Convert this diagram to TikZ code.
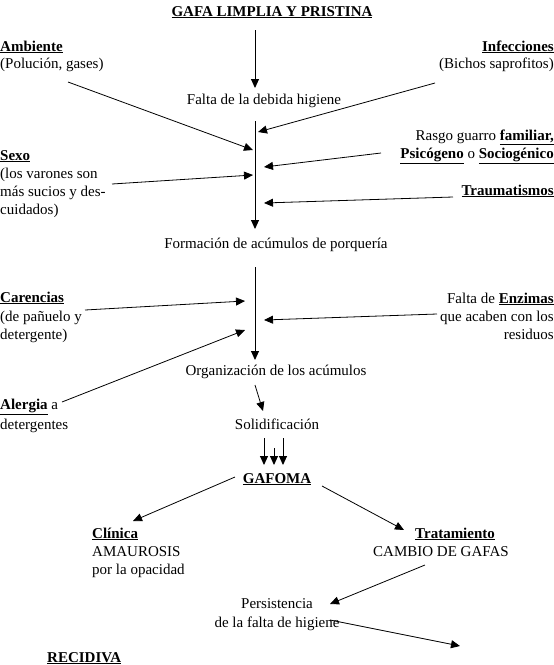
\documentclass[tikz,border=0pt]{standalone}
\usepackage{fontspec}
\setmainfont{Liberation Serif}
\usetikzlibrary{arrows.meta}
\begin{document}
\begin{tikzpicture}[x=1pt,y=-1pt,
  txt/.style={inner sep=0pt,font=\fontsize{15}{18}\selectfont},
  lw/.style={txt,anchor=base west},
  le/.style={txt,anchor=base east},
  lc/.style={txt,anchor=base},
  arr/.style={-{Triangle[length=9pt,width=8pt]},line width=0.8pt},
  varr/.style={arr,line width=0.95pt}]
\useasboundingbox (0,0) rectangle (554,665);
\newcommand{\bu}[1]{\underline{\textbf{#1}}}
% texts
\node[lc] (title) at (272,16) {\bu{GAFA LIMPLIA Y PRISTINA}};
\node[lw] (amb) at (0,51) {\bu{Ambiente}};
\node[lw] (amb2) at (0,68) {(Polución, gases)};
\node[le] (inf) at (554,51) {\bu{Infecciones}};
\node[le] (inf2) at (554,68) {(Bichos saprofitos)};
\node[lc] (falta) at (264,104) {Falta de la debida higiene};
\node[le] (rasgo) at (554,140) {Rasgo guarro \bu{familiar,}};
\node[le] (rasgo2) at (554,158) {\bu{Psicógeno} o \bu{Sociogénico}};
\node[lw] (sexo) at (0,160) {\bu{Sexo}};
\node[lw] (sexo2) at (0,178) {(los varones son};
\node[lw] (sexo3) at (0,196) {más sucios y des-};
\node[lw] (sexo4) at (0,214) {cuidados)};
\node[le] (trauma) at (554,195) {\bu{Traumatismos}};
\node[lc] (form) at (276,248) {Formación de acúmulos de porquería};
\node[lw] (car) at (0,302) {\bu{Carencias}};
\node[lw] (car2) at (0,321) {(de pañuelo y};
\node[lw] (car3) at (0,339) {detergente)};
\node[le] (enz) at (554,303) {Falta de \bu{Enzimas}};
\node[le] (enz2) at (554,321) {que acaben con los};
\node[le] (enz3) at (554,339) {residuos};
\node[lc] (org) at (276,375) {Organización de los acúmulos};
\node[lw] (ale) at (0,409) {\bu{Alergia} a};
\node[lw] (ale2) at (0,429) {detergentes};
\node[lc] (sol) at (277,429) {Solidificación};
\node[lc] (gaf) at (277,483) {\bu{GAFOMA}};
\node[lw] (cli) at (92,538) {\bu{Clínica}};
\node[lw] (cli2) at (92,556) {AMAUROSIS};
\node[lw] (cli3) at (92,574) {por la opacidad};
\node[lw] (tra) at (415,538) {\bu{Tratamiento}};
\node[lw] (tra2) at (373,556) {CAMBIO DE GAFAS};
\node[lc] (per) at (277,608) {Persistencia};
\node[lc] (per2) at (277,627) {de la falta de higiene};
\node[lw] (rec) at (47,662) {\bu{RECIDIVA}};
% coordinates
\coordinate (v1a) at (255,30);  \coordinate (v1b) at (255,88);
\coordinate (v2a) at (255,121); \coordinate (v2b) at (255,229);
\coordinate (v3a) at (255,267); \coordinate (v3b) at (255,360);
\coordinate (ambS) at (68,82);   \coordinate (ambE) at (253,150);
\coordinate (infS) at (435,83);  \coordinate (infE) at (258,132);
\coordinate (rasS) at (381,153); \coordinate (rasE) at (264,167);
\coordinate (sexS) at (112,184); \coordinate (sexE) at (253,175);
\coordinate (traS) at (453,197); \coordinate (traE) at (264,203);
\coordinate (carS) at (85,310);  \coordinate (carE) at (245,301);
\coordinate (enzS) at (437,314); \coordinate (enzE) at (264,320);
\coordinate (aleS) at (62,402);  \coordinate (aleE) at (245,330);
\coordinate (orgS) at (255,385); \coordinate (orgE) at (263,411);
\coordinate (t1a) at (264,438); \coordinate (t1b) at (264,465);
\coordinate (t2a) at (274,448); \coordinate (t2b) at (274,465);
\coordinate (t3a) at (283,438); \coordinate (t3b) at (283,465);
\coordinate (gcS) at (235,477); \coordinate (gcE) at (133,521);
\coordinate (gtS) at (322,486); \coordinate (gtE) at (404,530);
\coordinate (cpS) at (425,565); \coordinate (cpE) at (330,604);
\coordinate (prS) at (330,620); \coordinate (prE) at (460,646);
% connectors
\draw[varr] (v1a) -- (v1b);
\draw[varr] (v2a) -- (v2b);
\draw[varr] (v3a) -- (v3b);
\draw[arr] (ambS) -- (ambE);
\draw[arr] (infS) -- (infE);
\draw[arr] (rasS) -- (rasE);
\draw[arr] (sexS) -- (sexE);
\draw[arr] (traS) -- (traE);
\draw[arr] (carS) -- (carE);
\draw[arr] (enzS) -- (enzE);
\draw[arr] (aleS) -- (aleE);
\draw[arr] (orgS) -- (orgE);
\draw[varr] (t1a) -- (t1b);
\draw[varr] (t2a) -- (t2b);
\draw[varr] (t3a) -- (t3b);
\draw[arr] (gcS) -- (gcE);
\draw[arr] (gtS) -- (gtE);
\draw[arr] (cpS) -- (cpE);
\draw[arr] (prS) -- (prE);
\end{tikzpicture}
\end{document}
